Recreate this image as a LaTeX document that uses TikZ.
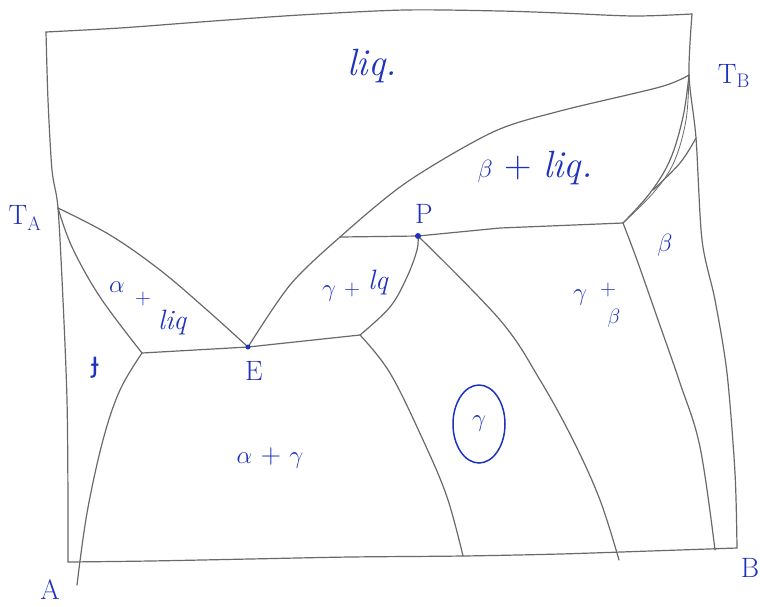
\documentclass[tikz,border=0pt]{standalone}
\usepackage{fontspec}
\usetikzlibrary{shapes.geometric}
\newfontfamily\ipafont{DejaVu Sans}
\definecolor{ink}{RGB}{30,50,190}
\definecolor{pencil}{RGB}{105,105,105}
\begin{document}
\begin{tikzpicture}[x=1pt,y=-1pt,
  pline/.style={draw=pencil,line width=1.2pt,line cap=round,line join=round},
  lab/.style={text=ink,inner sep=0pt,font=\fontsize{28}{30}\selectfont},
  biglab/.style={text=ink,inner sep=0pt,font=\fontsize{38}{40}\selectfont},
  smalllab/.style={text=ink,inner sep=0pt,font=\fontsize{22}{24}\selectfont}]
\useasboundingbox (0,0) rectangle (760,606);
% key points
\coordinate (TL) at (46,32);
\coordinate (TR) at (692,14);
\coordinate (BL) at (68,562);
\coordinate (BR) at (737,548);
\coordinate (TA) at (58,208);
\coordinate (TB) at (689,75);
\coordinate (E) at (248,347);
\coordinate (P) at (418,236);
\coordinate (eL) at (142,353);
\coordinate (eR) at (360,335);
\coordinate (pL) at (340,237);
\coordinate (pR) at (623,223);
\coordinate (sB) at (696,138);
\coordinate (aEnd) at (77,585);
\coordinate (gEnd) at (463,556);
\coordinate (pEnd) at (619,560);
\coordinate (bEnd) at (715,550);
% frame
\draw[pline] plot[smooth,tension=0.5] coordinates {(TL) (120,28) (200,22) (300,15) (405,10) (500,11) (560,13) (634,16) (TR)};
\draw[pline] plot[smooth,tension=0.5] coordinates {(TL) (48,100) (52,170) (TA) (63,300) (67,400) (68,500) (BL)};
\draw[pline] plot[smooth,tension=0.5] coordinates {(BL) (150,561) (250,559) (350,557) (gEnd) (560,554) (650,551) (BR)};
\draw[pline] plot[smooth,tension=0.5] coordinates {(TR) (TB) (sB) (702,240) (715,300) (727,373) (735,473) (BR)};
% liquidus and solidus of A side
\draw[pline] plot[smooth,tension=0.6] coordinates {(TA) (110,235) (160,270) (207,310) (E)};
\draw[pline] plot[smooth,tension=0.6] coordinates {(TA) (72,247) (100,297) (eL)};
\draw[pline] (eL) -- (E) -- (eR);
\draw[pline] plot[smooth,tension=0.6] coordinates {(eL) (120,390) (103,440) (87,513) (aEnd)};
% liquidus E -> TB
\draw[pline] plot[smooth,tension=0.5] coordinates {(E) (290,285) (pL) (407,182) (493,132) (560,111) (660,87) (TB)};
% peritectic
\draw[pline] (pL) -- (P) -- (500,228) -- (pR);
\draw[pline] plot[smooth,tension=0.6] coordinates {(eR) (390,307) (407,277) (417,250) (P)};
\draw[pline] plot[smooth,tension=0.6] coordinates {(eR) (390,373) (423,440) (447,497) (gEnd)};
\draw[pline] plot[smooth,tension=0.6] coordinates {(P) (500,320) (540,380) (573,440) (600,500) (pEnd)};
\draw[pline] plot[smooth,tension=0.6] coordinates {(pR) (637,260) (657,317) (680,383) (700,447) (bEnd)};
% beta side
\draw[pline] plot[smooth,tension=0.6] coordinates {(TB) (683,117) (670,160) (650,193) (pR)};
\draw[pline,line width=0.8pt] plot[smooth,tension=0.6] coordinates {(TB) (686,120) (674,162) (654,192) (pR)};
\draw[pline] plot[smooth,tension=0.6] coordinates {(sB) (680,163) (653,190)};
\fill[ink] (P) circle (3pt);
\fill[ink] (E) circle (2.5pt);
% labels
\node[biglab] (lliq) at (372,66) {\itshape liq.};
\node[lab] (lTA) at (25,218) {T\textsubscript{A}};
\node[lab] (lTB) at (734,76) {T\textsubscript{B}};
\node[biglab] (lbl) at (535,168) {$\beta$ + \itshape liq.};
\node[lab] (lP) at (424,214) {P};
\node[lab] (la1) at (117,287) {$\alpha$};
\node[smalllab] (la2) at (143,299) {+};
\node[lab] (la3) at (172,322) {\itshape liq};
\node[lab] (lE) at (254,371) {E};
\node[lab] (lphi) at (95,368) {\ipafont ɟ};
\node[lab] (lg1) at (329,294) {$\gamma$};
\node[smalllab] (lg2) at (352,290) {+};
\node[lab] (lg3) at (378,282) {\itshape lq};
\node[lab,draw=ink,line width=1.5pt,ellipse,minimum width=52pt,minimum height=78pt] (lgam) at (479,424) {$\gamma$};
\node[lab] (lag) at (270,458) {$\alpha$ + $\gamma$};
\node[lab] (lgb1) at (580,298) {$\gamma$};
\node[smalllab] (lgb2) at (608,290) {+};
\node[smalllab] (lgb3) at (614,318) {$\beta$};
\node[lab] (lb) at (665,245) {$\beta$};
\node[lab] (lA) at (50,590) {A};
\node[lab] (lB) at (750,568) {B};
\end{tikzpicture}
\end{document}
